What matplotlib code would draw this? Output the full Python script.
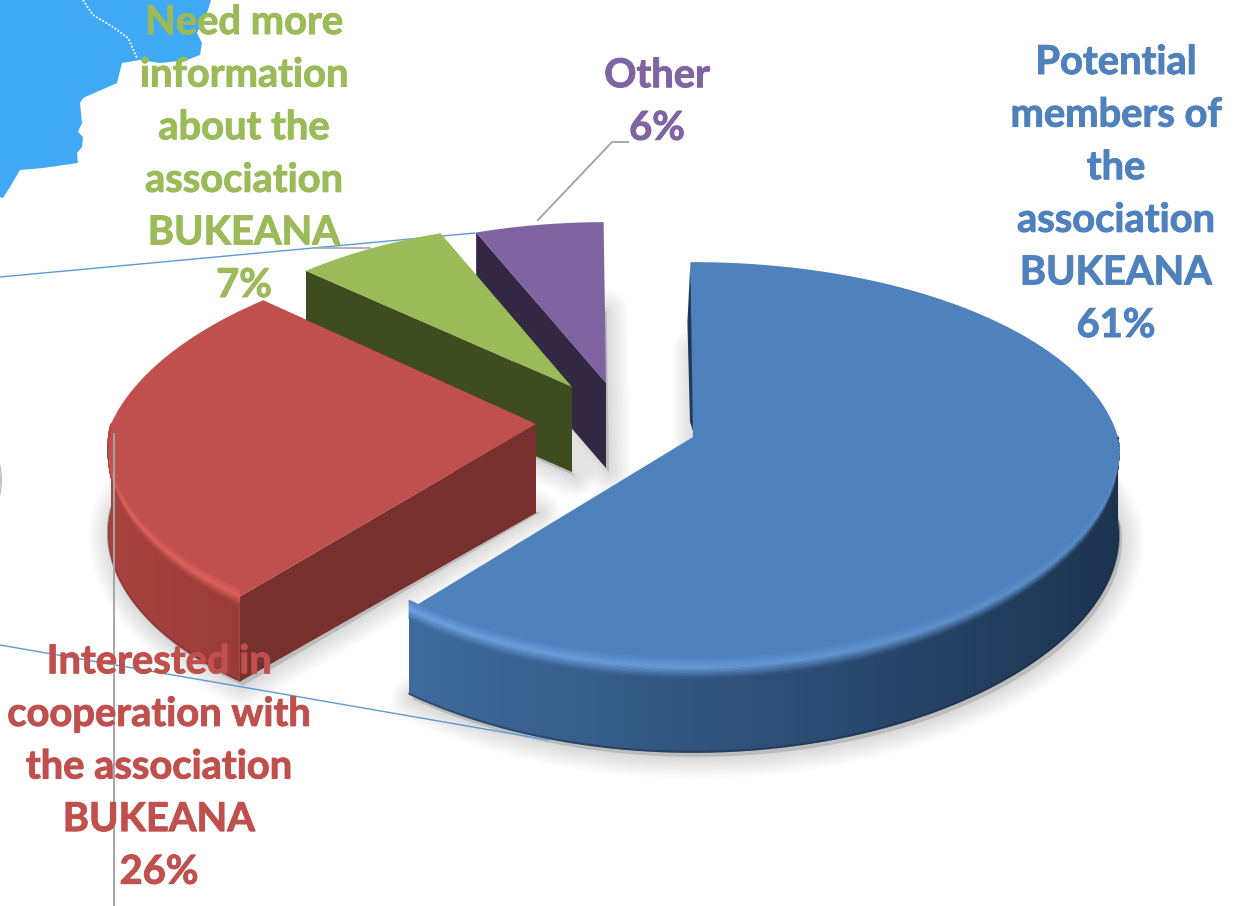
import numpy as np
import matplotlib
matplotlib.use('Agg')
import matplotlib.pyplot as plt
from matplotlib.patches import Polygon, Ellipse
from matplotlib.collections import PolyCollection
from matplotlib.colors import LinearSegmentedColormap, to_rgb
import matplotlib.patheffects as pe

# Data
categories = ['Potential\nmembers of\nthe\nassociation\nBUKEANA',
              'Interested in\ncooperation with\nthe association\nBUKEANA',
              'Need more\ninformation\nabout the\nassociation\nBUKEANA',
              'Other']
shares = [61, 26, 7, 6]

# Look of the slices, same order as above
top_colors = ['#4f81bd', '#c0504d', '#9bbb59', '#8064a2']
cut_colors = ['#1f3b5c', '#78302e', '#3f4c20', '#322843']
wall_left = ['#3f6b9e', '#a8443f', '#5d7035', '#4c3c61']
wall_right = ['#1d3451', '#9a3c39', '#5d7035', '#4c3c61']
rim_colors = ['#6fa2e0', '#e0625e', '#9bbb59', '#8064a2']
text_colors = ['#4f81bd', '#c0504d', '#9bbb59', '#8064a2']

# apex of each slice on the canvas and its size after the explosion
apex_x = [693, 536, 572, 606]
apex_y = [437, 424, 387, 383]
scale = [1.0, 1.0, 0.94, 0.92]
persp_up = [0.138, 0.21, 0.15, 0.138]
persp_down = [0.07, 0.12, 0.138, 0.138]
label_x = [1116, 159, 244, 657]
label_y = [194, 767, 154, 102]

RX, RY, PERSP, DEPTH = 425, 199, 0.138, 85
START = 90.4


def project(i, deg):
    a = np.radians(deg)
    u, v = np.cos(a), np.sin(a)
    w = 1 / (1 + PERSP * v)
    wx = 1 / (1 + np.where(v > 0, persp_up[i], persp_down[i]) * v)
    return (apex_x[i] + RX * scale[i] * u * wx,
            apex_y[i] - RY * scale[i] * v * w)


def mix(c1, c2, t):
    c1 = np.array(to_rgb(c1))
    c2 = np.array(to_rgb(c2))
    return tuple(c1 + (c2 - c1) * t)


fig = plt.figure(figsize=(12.46, 9.06), dpi=100)
ax = fig.add_axes([0, 0, 1, 1])
ax.set_xlim(0, 1246)
ax.set_ylim(906, 0)
ax.axis('off')
plt.rcParams['font.family'] = ['Lato', 'DejaVu Sans']

# map fragment behind the chart
map_x = [0, 211, 208, 197, 202, 200, 187, 160, 140, 122, 117, 83, 80, 82, 78, 83, 82, 77, 78, 43, 20, 10, 3, 0]
map_y = [0, 0, 10, 33, 43, 55, 60, 63, 60, 63, 83, 98, 103, 123, 132, 137, 147, 153, 163, 168, 170, 187, 198, 197]
ax.add_patch(Polygon(np.column_stack([map_x, map_y]), fc='#3fa9f5', ec='none', zorder=1))
ax.plot([83, 93, 113, 128, 137], [0, 15, 27, 38, 58], color='white', lw=1.3, ls=(0, (1, 1)), zorder=1.5)
ax.add_patch(Ellipse((-6, 480), 16, 50, fc='#c4c4c4', ec='none', zorder=1))

# thin lines left over from the slide
ax.plot([0, 475], [277, 233], color='#5b9bd5', lw=1, zorder=2)
ax.plot([0, 548], [645, 740], color='#5b9bd5', lw=1, zorder=8)
ax.plot([114, 114], [434, 906], color='#a6a6a6', lw=1.4, zorder=8)
ax.plot([538, 612, 628], [220, 142, 142], color='#a6a6a6', lw=1.4, zorder=8)
ax.plot([316, 370], [248, 248], color='#a6a6a6', lw=1.2, zorder=8)

angles = START - np.cumsum([0] + shares) * 3.6

# soft shadows first
for i in range(4):
    t = np.linspace(angles[i], angles[i + 1], 120)
    px, py = project(i, t)
    xs = np.r_[apex_x[i], px] + 3
    ys = np.r_[apex_y[i], py] + DEPTH + 4
    pts = np.column_stack([xs, ys])
    ax.add_patch(Polygon(pts, fc='black', ec='none', alpha=0.13, zorder=3))
    for k in range(1, 13):
        ax.add_patch(Polygon(pts, fc='none', ec='black', lw=k * 2.6, alpha=0.011,
                             joinstyle='round', zorder=3))

# back to front so the big slice ends up on top
for i in [3, 2, 1, 0]:
    z = 4 + (3 - i) * 0.5
    a0, a1 = angles[i], angles[i + 1]
    t = np.linspace(a0, a1, 200)
    px, py = project(i, t)

    # cut face on the visible side of the slice
    if i == 0:
        x0, y0 = project(i, a0)
        ax.add_patch(Polygon([(x0, y0), (apex_x[i] + 2, apex_y[i]), (apex_x[i] - 3, apex_y[i] - 15),
                              (x0 - 3, y0 + 60)], fc=cut_colors[i], ec='none', zorder=z))
    else:
        edge = a1 if i == 1 else a0
        x0, y0 = project(i, edge)
        ax.add_patch(Polygon([(x0, y0), (apex_x[i], apex_y[i]),
                              (apex_x[i], apex_y[i] + DEPTH), (x0, y0 + DEPTH)],
                             fc=cut_colors[i], ec='none', zorder=z))

    # outer wall, only where it faces the viewer
    wt = t[(np.sin(np.radians(t)) < 0.0)]
    if len(wt) > 1:
        wx, wy = project(i, wt)
        cm = LinearSegmentedColormap.from_list('w%d' % i, [wall_left[i], wall_right[i]])
        grad = np.linspace(0, 1, 256).reshape(1, -1)
        outline = np.column_stack([np.r_[wx, wx[::-1]], np.r_[wy, wy[::-1] + DEPTH]])
        clip = Polygon(outline, transform=ax.transData, fc='none', ec='none')
        ax.add_patch(clip)
        im = ax.imshow(grad, cmap=cm, aspect='auto', zorder=z, interpolation='bilinear',
                       extent=(wx.min(), wx.max(), wy.max() + DEPTH + 2, wy.min() - 2))
        im.set_clip_path(clip)
        ax.set_xlim(0, 1246)
        ax.set_ylim(906, 0)
        ax.plot(wx, wy + DEPTH - 1, color=mix(wall_right[i], '#000000', 0.3), lw=1.5, alpha=0.4, zorder=z)

    # red slice closes its wall with a cut face in front of it
    if i == 1:
        x0, y0 = project(i, a0)
        ax.add_patch(Polygon([(x0, y0), (apex_x[i], apex_y[i]),
                              (apex_x[i], apex_y[i] + DEPTH + 4), (x0, y0 + DEPTH)],
                             fc=cut_colors[i], ec='none', zorder=z + 0.1))

    # top face
    ax.add_patch(Polygon(np.column_stack([np.r_[apex_x[i], px], np.r_[apex_y[i], py]]),
                         fc=top_colors[i], ec='none', zorder=z + 0.2))

    # bevelled edge between top face and wall, widest at the front
    if len(wt) > 1:
        wx, wy = project(i, wt)
        width = 11 * np.sqrt(np.clip(-np.sin(np.radians(wt)), 0, 1))
        polys, cols = [], []
        levels = np.linspace(-1, 1, 17)
        for j in range(len(wt) - 1):
            s = (wx[j] - wx.min()) / (wx.max() - wx.min())
            wall_c = mix(wall_left[i], wall_right[i], s)
            # the highlight dies away toward the dark end of the wall
            glow = 1 - 0.65 * s if i == 0 else 1
            peak = mix(top_colors[i], rim_colors[i], glow)
            for d0, d1 in zip(levels[:-1], levels[1:]):
                d = (d0 + d1) / 2
                polys.append([(wx[j], wy[j] + d0 * width[j]), (wx[j + 1], wy[j + 1] + d0 * width[j + 1]),
                              (wx[j + 1], wy[j + 1] + d1 * width[j + 1]), (wx[j], wy[j] + d1 * width[j])])
                cols.append(mix(top_colors[i], peak, 1 + d) if d < 0 else mix(peak, wall_c, d))
        ax.add_collection(PolyCollection(polys, facecolors=cols, edgecolors='face',
                                         linewidths=0.4, zorder=z + 0.3))

# labels
for i in range(4):
    ax.text(label_x[i], label_y[i], '%s\n%d%%' % (categories[i], shares[i]),
            color=text_colors[i], fontsize=28.7, fontweight='bold', ha='center', va='center',
            linespacing=1.52, zorder=10,
            path_effects=[pe.withStroke(linewidth=0.7, foreground=text_colors[i])])

fig.savefig('out.png', dpi=100)
